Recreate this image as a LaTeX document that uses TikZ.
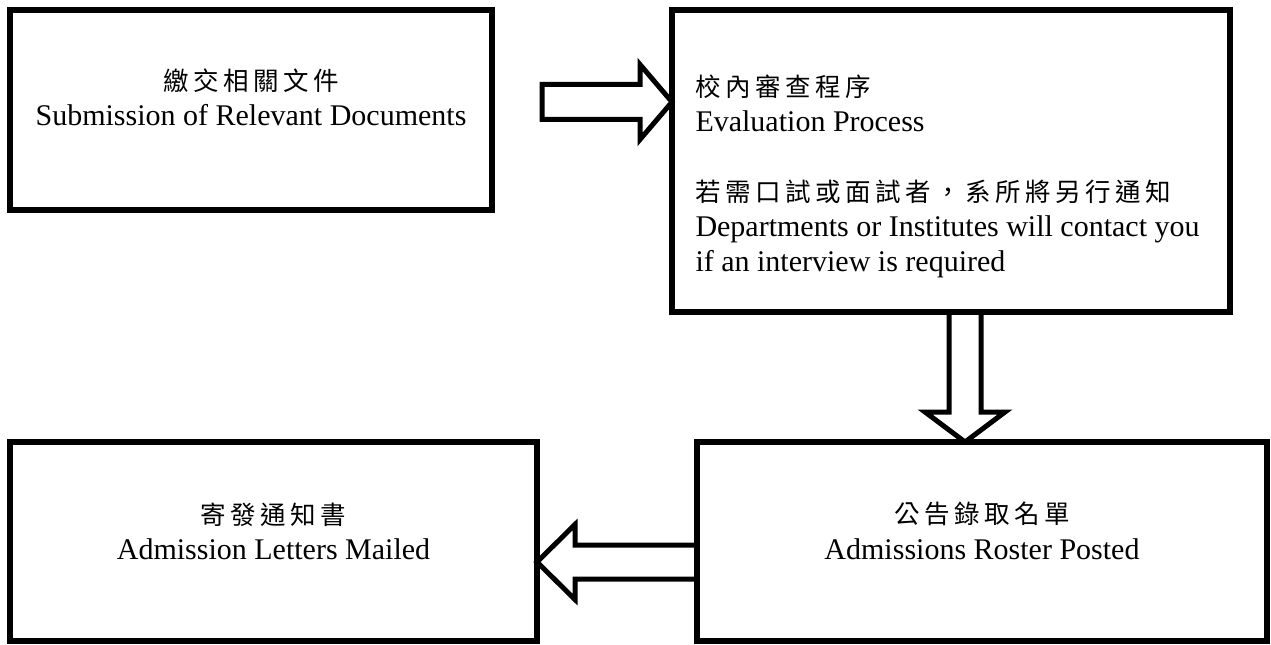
\documentclass[tikz,border=0pt]{standalone}
\usepackage{fontspec}
\setmainfont{Liberation Serif}
\newfontfamily\cjk[Scale=0.85, LetterSpace=17.6]{Noto Sans CJK TC}
\usepackage{tikz}
\usetikzlibrary{calc}

\tikzset{
	box/.style={draw, line width=2.2pt, inner sep=0pt, outer sep=0pt},
	boxtext/.style={inner sep=0pt, align=center, font=\fontsize{12}{14}\selectfont},
	hollow/.style={draw, line width=2pt, line join=miter}
}

\begin{document}
\begin{tikzpicture}[x=0.4pt, y=-0.4pt]
			\useasboundingbox (0,0) rectangle (1271,645);
			\node[box, minimum width=192.8pt, minimum height=80pt] (submit) at (251,110) {};
			\node[box, minimum width=223.2pt, minimum height=120.8pt] (review) at (951,161) {};
			\node[box, minimum width=228pt, minimum height=79.6pt] (roster) at (982,541.5) {};
			\node[box, minimum width=210.8pt, minimum height=79.6pt] (notify) at (273.5,541.5) {};
			\node[boxtext, anchor=north] (submit text) at ($(submit.north)+(0,58)$) {{\cjk 繳交相關文件}\\Submission of Relevant Documents};
			\node[boxtext, anchor=north west, align=left] (review text) at ($(review.north west)+(23,64)$) {{\cjk 校內審查程序}\\Evaluation Process\\[14pt]{\cjk 若需口試或面試者，系所將另行通知}\\Departments or Institutes will contact you\\if an interview is required};
			\node[boxtext, anchor=north] (roster text) at ($(roster.north)+(0,60)$) {{\cjk 公告錄取名單}\\Admissions Roster Posted};
			\node[boxtext, anchor=north] (notify text) at ($(notify.north)+(0,60)$) {{\cjk 寄發通知書}\\Admission Letters Mailed};
			\coordinate (a1) at ($(submit.north east)+(50,92)$);
			\draw[hollow] (a1) ++(0,-17.5) -- ++(98,0) -- ++(0,-20) -- (review.west |- a1) -- ++(-32,37.5) -- ++(0,-20) -- ++(-98,0) -- cycle;
			\coordinate (a2) at ($(review.south)+(14,0)$);
			\draw[hollow] (a2) ++(-16,0) -- ++(0,100) -- ++(-24,0) -- (a2 |- roster.north) -- ++(40,-30) -- ++(-24,0) -- ++(0,-100) -- cycle;
			\coordinate (a3) at ($(roster.west)+(0,20.5)$);
			\draw[hollow] (a3) ++(0,-17) -- ++(-122,0) -- ++(0,-20.5) -- (notify.east |- a3) -- ++(38,37.5) -- ++(0,-20.5) -- ++(122,0) -- cycle;
\end{tikzpicture}
\end{document}
